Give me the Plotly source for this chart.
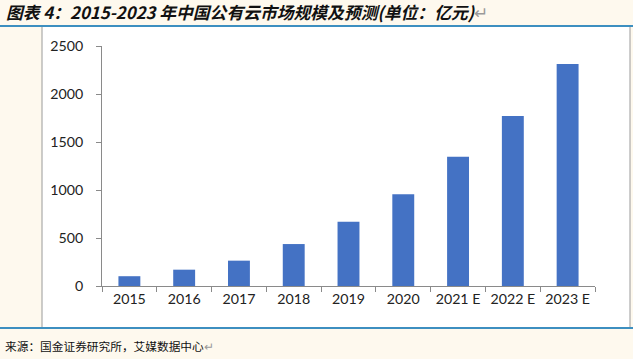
import plotly.graph_objects as go

categories = ["2015", "2016", "2017", "2018", "2019", "2020", "2021 E", "2022 E", "2023 E"]
values = [102, 170, 264, 437, 670, 955, 1347, 1771, 2312]
y_ticks = [0, 500, 1000, 1500, 2000, 2500]

W, H = 633, 359
L, R, T, B = 102, 595, 46, 286

def px_x(p):
    return (p - L) / (R - L)

def px_y(p):
    return (B - p) / (B - T)

fig = go.Figure()
fig.add_trace(go.Bar(x=categories, y=values, marker=dict(color="#4472C4", line=dict(width=0)),
                     hoverinfo="skip"))

shapes = [
    dict(type="rect", xref="paper", yref="paper", x0=px_x(42), x1=px_x(630), y0=px_y(327), y1=px_y(27),
         fillcolor="white", line=dict(width=0), layer="below"),
    dict(type="line", xref="paper", yref="paper", x0=px_x(42), x1=px_x(42), y0=px_y(327), y1=px_y(27),
         line=dict(color="#9a9a9a", width=1)),
    dict(type="line", xref="paper", yref="paper", x0=px_x(630), x1=px_x(630), y0=px_y(327), y1=px_y(27),
         line=dict(color="#9a9a9a", width=1)),
    dict(type="line", xref="paper", yref="paper", x0=px_x(0), x1=px_x(633), y0=px_y(26), y1=px_y(26),
         line=dict(color="#3d8fc0", width=2)),
    dict(type="line", xref="paper", yref="paper", x0=px_x(0), x1=px_x(633), y0=px_y(328), y1=px_y(328),
         line=dict(color="#3d8fc0", width=2)),
]

annotations = [
    dict(xref="paper", yref="paper", x=px_x(4), y=px_y(12), xanchor="left", yanchor="middle",
         text="<b><i>图表 4：2015-2023 年中国公有云市场规模及预测(单位：亿元)</i></b><span style='color:#9a9a9a'>↵</span>",
         showarrow=False, font=dict(family="Noto Sans CJK SC", size=16.8, color="#111")),
    dict(xref="paper", yref="paper", x=px_x(3), y=px_y(345), xanchor="left", yanchor="middle",
         text="来源：国金证券研究所，艾媒数据中心<span style='color:#9a9a9a'>↵</span>",
         showarrow=False, font=dict(family="Noto Sans CJK SC", size=11.7, color="#111")),
]

fig.update_layout(
    width=W, height=H,
    margin=dict(l=L, r=W - R, t=T, b=H - B, pad=0),
    paper_bgcolor="#FEF9EE",
    plot_bgcolor="rgba(0,0,0,0)",
    bargap=0.6,
    showlegend=False,
    shapes=shapes,
    annotations=annotations,
    font=dict(family="Lato, Liberation Sans", size=13, color="#222"),
    xaxis=dict(type="category", showgrid=False, showline=True, linecolor="#8a8a8a", linewidth=1,
               ticks="outside", ticklen=5, tickcolor="#8a8a8a", tickson="boundaries",
               tickfont=dict(size=14.2, color="#222"), fixedrange=True),
    yaxis=dict(range=[0, 2500], tickvals=y_ticks, showgrid=False, showline=True, linecolor="#8a8a8a",
               linewidth=1, ticks="outside", ticklen=5, tickcolor="#8a8a8a", zeroline=False,
               tickfont=dict(size=14.2, color="#222"), ticklabelstandoff=10, fixedrange=True),
)

fig.write_html("out.html", config={"displayModeBar": False},
               post_script="document.body.style.margin='0';document.body.style.background='#FEF9EE';")
